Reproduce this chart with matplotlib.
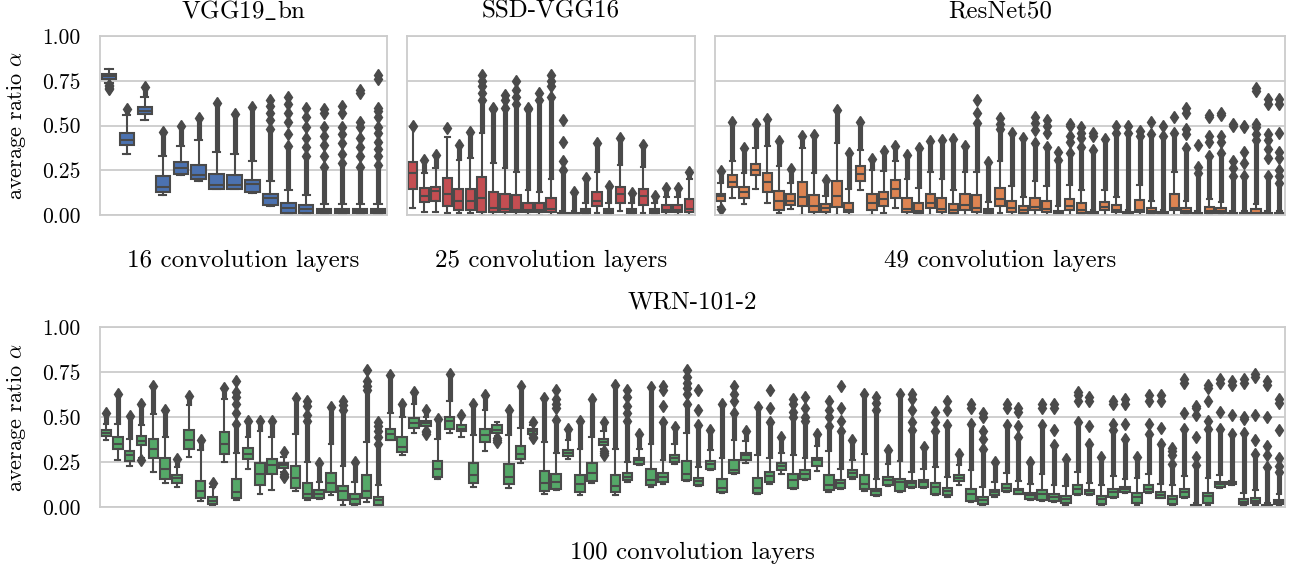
import numpy as np
import matplotlib
matplotlib.use("Agg")
import matplotlib.pyplot as plt

plt.rcParams["font.family"] = "serif"
plt.rcParams["font.serif"] = ["cmr10", "DejaVu Serif"]
plt.rcParams["mathtext.fontset"] = "cm"
plt.rcParams["axes.unicode_minus"] = False
plt.rcParams["axes.formatter.use_mathtext"] = True

# ---- VGG19_bn (16 layers) ----
vgg_q1 = [0.757, 0.389, 0.563, 0.128, 0.231, 0.202, 0.146, 0.146, 0.128, 0.054, 0.013, 0.013, 0.013, 0.013, 0.013, 0.013]
vgg_med = [0.774, 0.417, 0.583, 0.157, 0.263, 0.222, 0.170, 0.165, 0.174, 0.093, 0.041, 0.031, 0.020, 0.020, 0.020, 0.020]
vgg_q3 = [0.790, 0.457, 0.602, 0.218, 0.296, 0.278, 0.230, 0.226, 0.198, 0.117, 0.069, 0.054, 0.031, 0.031, 0.031, 0.031]
vgg_lo = [0.735, 0.339, 0.531, 0.109, 0.222, 0.189, 0.143, 0.143, 0.122, 0.048, 0.0, 0.0, 0.0, 0.0, 0.0, 0.0]
vgg_hi = [0.818, 0.560, 0.657, 0.328, 0.383, 0.420, 0.350, 0.340, 0.300, 0.190, 0.140, 0.110, 0.060, 0.060, 0.060, 0.060]
vgg_top = [0.818, 0.590, 0.713, 0.461, 0.498, 0.541, 0.624, 0.565, 0.604, 0.480, 0.383, 0.328, 0.270, 0.290, 0.270, 0.280]
vgg_out = [[0.728, 0.720, 0.712, 0.705], [], [], [], [], [], [], [], [],
           [0.53, 0.57, 0.61, 0.64], [0.45, 0.52, 0.57, 0.62, 0.66], [0.38, 0.43, 0.49, 0.55, 0.60],
           [0.33, 0.39, 0.44, 0.49, 0.57, 0.59], [0.34, 0.40, 0.45, 0.49, 0.57, 0.61],
           [0.33, 0.38, 0.43, 0.49, 0.52, 0.68, 0.70],
           [0.33, 0.37, 0.41, 0.46, 0.49, 0.55, 0.58, 0.60, 0.76, 0.78]]

# ---- SSD-VGG16 (25 layers) ----
ssd_q1 = [0.148, 0.074, 0.081, 0.050, 0.028, 0.028, 0.019, 0.019, 0.019, 0.019, 0.019, 0.019, 0.019, 0.003, 0.003, 0.013, 0.050, 0.013, 0.069, 0.013, 0.054, 0.013, 0.019, 0.019, 0.019]
ssd_med = [0.235, 0.106, 0.133, 0.115, 0.078, 0.078, 0.093, 0.041, 0.031, 0.028, 0.028, 0.028, 0.031, 0.005, 0.005, 0.020, 0.078, 0.020, 0.115, 0.020, 0.106, 0.020, 0.030, 0.030, 0.035]
ssd_q3 = [0.296, 0.152, 0.156, 0.207, 0.143, 0.146, 0.211, 0.130, 0.115, 0.109, 0.069, 0.065, 0.093, 0.010, 0.010, 0.035, 0.128, 0.035, 0.156, 0.035, 0.143, 0.035, 0.054, 0.054, 0.091]
ssd_lo = [0.037, 0.019, 0.019, 0.013, 0.013, 0.013, 0.0, 0.0, 0.0, 0.0, 0.0, 0.0, 0.0, 0.0, 0.0, 0.0, 0.013, 0.0, 0.020, 0.0, 0.013, 0.0, 0.0, 0.0, 0.0]
ssd_hi = [0.490, 0.235, 0.263, 0.435, 0.310, 0.320, 0.457, 0.290, 0.260, 0.240, 0.140, 0.130, 0.200, 0.020, 0.020, 0.065, 0.240, 0.065, 0.280, 0.065, 0.270, 0.065, 0.100, 0.100, 0.200]
ssd_top = [0.490, 0.306, 0.333, 0.435, 0.393, 0.463, 0.640, 0.590, 0.600, 0.620, 0.590, 0.640, 0.660, 0.254, 0.128, 0.207, 0.402, 0.161, 0.430, 0.124, 0.393, 0.106, 0.152, 0.152, 0.241]
ssd_out = [[0.50], [], [], [0.485], [], [], [0.68, 0.72, 0.75, 0.78], [0.60], [0.64, 0.67],
           [0.66, 0.70, 0.75], [0.60], [0.68], [0.72, 0.75, 0.78], [0.30, 0.41, 0.53],
           [], [], [], [], [], [], [], [], [], [], []]

# ---- ResNet50 (49 layers) ----
res_q1 = [0.081, 0.157, 0.093, 0.222, 0.130, 0.028, 0.054, 0.050, 0.019, 0.019, 0.046, 0.019, 0.189, 0.028, 0.050, 0.093, 0.019,
          0.013, 0.037, 0.019, 0.013, 0.028, 0.019, 0.010, 0.050, 0.019, 0.013, 0.028, 0.019, 0.005, 0.028, 0.013, 0.003,
          0.028, 0.019, 0.003, 0.019, 0.013, 0.003, 0.028, 0.013, 0.002, 0.013, 0.013, 0.002, 0.002, 0.005, 0.002, 0.002]
res_med = [0.106, 0.183, 0.128, 0.254, 0.183, 0.078, 0.081, 0.102, 0.050, 0.037, 0.106, 0.028, 0.231, 0.065, 0.087, 0.148, 0.035,
           0.020, 0.065, 0.035, 0.028, 0.056, 0.041, 0.020, 0.087, 0.037, 0.028, 0.046, 0.031, 0.012, 0.050, 0.028, 0.008,
           0.046, 0.028, 0.008, 0.028, 0.020, 0.008, 0.041, 0.020, 0.005, 0.020, 0.020, 0.005, 0.005, 0.012, 0.005, 0.005]
res_q3 = [0.120, 0.222, 0.157, 0.285, 0.235, 0.133, 0.115, 0.183, 0.109, 0.059, 0.189, 0.069, 0.272, 0.115, 0.130, 0.194, 0.093,
          0.069, 0.120, 0.093, 0.063, 0.115, 0.109, 0.035, 0.152, 0.078, 0.050, 0.093, 0.078, 0.025, 0.087, 0.065, 0.015,
          0.074, 0.054, 0.015, 0.083, 0.041, 0.015, 0.115, 0.041, 0.010, 0.046, 0.037, 0.010, 0.010, 0.031, 0.010, 0.010]
res_lo = [0.045, 0.093, 0.059, 0.143, 0.069, 0.013, 0.031, 0.0, 0.0, 0.0, 0.0, 0.0, 0.139, 0.0, 0.013, 0.041, 0.0,
          0.0, 0.0, 0.0, 0.0, 0.0, 0.0, 0.0, 0.013, 0.0, 0.0, 0.0, 0.0, 0.0, 0.0, 0.0, 0.0,
          0.0, 0.0, 0.0, 0.0, 0.0, 0.0, 0.0, 0.0, 0.0, 0.0, 0.0, 0.0, 0.0, 0.0, 0.0, 0.0]
res_hi = [0.180, 0.300, 0.235, 0.374, 0.383, 0.276, 0.180, 0.374, 0.235, 0.105, 0.402, 0.143, 0.365, 0.254, 0.244, 0.300, 0.200,
          0.150, 0.240, 0.200, 0.140, 0.240, 0.240, 0.070, 0.300, 0.160, 0.100, 0.190, 0.160, 0.050, 0.170, 0.140, 0.030,
          0.140, 0.100, 0.030, 0.170, 0.080, 0.030, 0.240, 0.080, 0.020, 0.090, 0.070, 0.020, 0.020, 0.060, 0.020, 0.020]
res_top = [0.244, 0.522, 0.374, 0.509, 0.537, 0.411, 0.259, 0.443, 0.448, 0.193, 0.587, 0.346, 0.517, 0.315, 0.356, 0.383, 0.337,
           0.374, 0.411, 0.417, 0.424, 0.383, 0.513, 0.296, 0.480, 0.457, 0.430, 0.400, 0.380, 0.310, 0.346, 0.380, 0.365,
           0.424, 0.460, 0.460, 0.440, 0.450, 0.440, 0.457, 0.374, 0.235, 0.330, 0.346, 0.216, 0.216, 0.420, 0.216, 0.180]
res_out = [[0.035], [], [], [], [], [], [], [], [], [], [], [], [], [], [], [], [],
           [], [], [], [], [], [0.57, 0.64], [], [0.51, 0.54], [], [], [0.476, 0.513, 0.55], [0.46, 0.50, 0.53],
           [0.35], [0.41, 0.44, 0.50, 0.51], [0.43, 0.46, 0.49], [0.44, 0.46],
           [], [0.50], [0.50], [0.47], [0.52], [0.50], [0.55], [0.45, 0.48, 0.57, 0.60], [0.27, 0.39],
           [0.41, 0.44, 0.55, 0.56], [0.41, 0.44, 0.56, 0.57], [0.26, 0.30, 0.50, 0.51], [0.29, 0.35, 0.49, 0.50],
           [0.45, 0.49, 0.51, 0.69, 0.71], [0.32, 0.37, 0.42, 0.45, 0.62, 0.65],
           [0.22, 0.25, 0.32, 0.35, 0.46, 0.62, 0.65]]

# ---- WRN-101-2 (100 layers) ----
wrn_q1 = [0.394, 0.324, 0.256, 0.346, 0.272, 0.157, 0.133, 0.324, 0.052, 0.019,
          0.293, 0.052, 0.265, 0.124, 0.185, 0.219, 0.107, 0.052, 0.052, 0.083,
          0.037, 0.019, 0.052, 0.010, 0.374, 0.306, 0.441, 0.448, 0.167, 0.435,
          0.420, 0.133, 0.361, 0.411, 0.126, 0.269, 0.407, 0.087, 0.102, 0.283,
          0.083, 0.144, 0.343, 0.083, 0.148, 0.241, 0.120, 0.139, 0.250, 0.152,
          0.124, 0.213, 0.083, 0.189, 0.259, 0.080, 0.139, 0.204, 0.107, 0.157,
          0.228, 0.093, 0.106, 0.167, 0.102, 0.065, 0.120, 0.089, 0.111, 0.111,
          0.074, 0.065, 0.143, 0.033, 0.019, 0.065, 0.087, 0.074, 0.046, 0.037,
          0.033, 0.024, 0.070, 0.070, 0.019, 0.056, 0.083, 0.024, 0.083, 0.052,
          0.019, 0.056, 0.002, 0.024, 0.111, 0.128, 0.019, 0.024, 0.002, 0.019]
wrn_med = [0.411, 0.352, 0.287, 0.367, 0.324, 0.213, 0.161, 0.370, 0.089, 0.033,
           0.348, 0.083, 0.296, 0.181, 0.231, 0.233, 0.163, 0.074, 0.074, 0.133,
           0.087, 0.046, 0.087, 0.037, 0.407, 0.333, 0.469, 0.467, 0.209, 0.476,
           0.435, 0.176, 0.398, 0.430, 0.167, 0.296, 0.422, 0.133, 0.139, 0.300,
           0.130, 0.191, 0.361, 0.115, 0.167, 0.259, 0.148, 0.167, 0.274, 0.181,
           0.144, 0.237, 0.106, 0.207, 0.287, 0.107, 0.170, 0.226, 0.152, 0.185,
           0.259, 0.120, 0.133, 0.189, 0.130, 0.087, 0.148, 0.139, 0.133, 0.139,
           0.111, 0.087, 0.163, 0.070, 0.041, 0.083, 0.106, 0.093, 0.069, 0.074,
           0.056, 0.046, 0.102, 0.087, 0.043, 0.083, 0.098, 0.056, 0.102, 0.065,
           0.043, 0.083, 0.005, 0.059, 0.130, 0.133, 0.030, 0.035, 0.005, 0.028]
wrn_q3 = [0.426, 0.389, 0.311, 0.394, 0.380, 0.274, 0.180, 0.426, 0.144, 0.056,
          0.417, 0.154, 0.330, 0.244, 0.269, 0.246, 0.228, 0.133, 0.096, 0.190,
          0.115, 0.070, 0.176, 0.056, 0.431, 0.389, 0.496, 0.478, 0.256, 0.500,
          0.454, 0.244, 0.435, 0.454, 0.237, 0.339, 0.435, 0.198, 0.181, 0.319,
          0.180, 0.244, 0.376, 0.180, 0.189, 0.274, 0.213, 0.189, 0.291, 0.256,
          0.161, 0.254, 0.157, 0.263, 0.302, 0.163, 0.194, 0.244, 0.181, 0.204,
          0.272, 0.180, 0.148, 0.204, 0.180, 0.102, 0.167, 0.157, 0.144, 0.152,
          0.133, 0.106, 0.180, 0.102, 0.056, 0.096, 0.130, 0.102, 0.080, 0.096,
          0.070, 0.061, 0.120, 0.096, 0.061, 0.102, 0.111, 0.080, 0.124, 0.083,
          0.061, 0.102, 0.010, 0.080, 0.139, 0.138, 0.043, 0.052, 0.010, 0.041]
wrn_lo = [0.370, 0.263, 0.228, 0.270, 0.194, 0.133, 0.111, 0.278, 0.033, 0.010,
          0.250, 0.037, 0.213, 0.074, 0.093, 0.194, 0.089, 0.040, 0.043, 0.065,
          0.010, 0.010, 0.028, 0.005, 0.370, 0.287, 0.411, 0.430, 0.157, 0.411,
          0.389, 0.111, 0.309, 0.395, 0.107, 0.244, 0.398, 0.074, 0.096, 0.269,
          0.065, 0.133, 0.320, 0.065, 0.140, 0.235, 0.111, 0.130, 0.241, 0.144,
          0.118, 0.205, 0.078, 0.181, 0.244, 0.070, 0.130, 0.185, 0.100, 0.150,
          0.198, 0.085, 0.100, 0.155, 0.090, 0.060, 0.115, 0.083, 0.106, 0.104,
          0.065, 0.058, 0.120, 0.028, 0.010, 0.056, 0.083, 0.070, 0.040, 0.033,
          0.028, 0.010, 0.065, 0.068, 0.010, 0.050, 0.078, 0.010, 0.078, 0.048,
          0.010, 0.050, 0.0, 0.010, 0.105, 0.125, 0.005, 0.010, 0.0, 0.005]
wrn_hi = [0.463, 0.463, 0.380, 0.454, 0.519, 0.389, 0.222, 0.565, 0.315, 0.110,
          0.600, 0.300, 0.389, 0.420, 0.389, 0.280, 0.407, 0.250, 0.140, 0.352,
          0.230, 0.140, 0.360, 0.120, 0.520, 0.500, 0.570, 0.500, 0.380, 0.590,
          0.500, 0.400, 0.540, 0.472, 0.400, 0.440, 0.455, 0.360, 0.300, 0.370,
          0.320, 0.390, 0.420, 0.320, 0.250, 0.320, 0.350, 0.260, 0.350, 0.410,
          0.220, 0.315, 0.270, 0.370, 0.365, 0.290, 0.275, 0.300, 0.290, 0.275,
          0.338, 0.310, 0.210, 0.260, 0.295, 0.157, 0.237, 0.257, 0.193, 0.213,
          0.220, 0.167, 0.235, 0.205, 0.110, 0.140, 0.190, 0.145, 0.130, 0.185,
          0.125, 0.115, 0.195, 0.135, 0.123, 0.170, 0.153, 0.163, 0.185, 0.130,
          0.123, 0.170, 0.020, 0.163, 0.180, 0.145, 0.080, 0.093, 0.020, 0.075]
wrn_top = [0.522, 0.626, 0.504, 0.574, 0.670, 0.541, 0.269, 0.617, 0.374, 0.133,
           0.661, 0.463, 0.478, 0.478, 0.478, 0.305, 0.607, 0.480, 0.244, 0.556,
           0.537, 0.250, 0.648, 0.352, 0.731, 0.574, 0.639, 0.540, 0.491, 0.741,
           0.509, 0.574, 0.624, 0.472, 0.537, 0.670, 0.472, 0.607, 0.481, 0.435,
           0.478, 0.602, 0.472, 0.676, 0.480, 0.407, 0.667, 0.472, 0.444, 0.570,
           0.454, 0.426, 0.574, 0.520, 0.422, 0.556, 0.472, 0.389, 0.500, 0.480,
           0.407, 0.450, 0.420, 0.370, 0.630, 0.540, 0.319, 0.630, 0.430, 0.333,
           0.420, 0.454, 0.296, 0.463, 0.324, 0.250, 0.454, 0.389, 0.250, 0.454,
           0.343, 0.269, 0.472, 0.352, 0.278, 0.426, 0.380, 0.278, 0.407, 0.352,
           0.240, 0.435, 0.231, 0.435, 0.435, 0.407, 0.410, 0.296, 0.222, 0.194]
wrn_out = [[], [], [], [0.26], [], [], [], [], [], [],
           [], [0.52, 0.57, 0.61, 0.64, 0.70], [], [], [], [0.185, 0.175, 0.167], [], [0.51, 0.56, 0.59], [], [],
           [0.565, 0.59], [], [0.67, 0.70, 0.76], [0.39, 0.42, 0.45, 0.47], [], [], [], [0.42, 0.415, 0.407], [], [],
           [], [], [], [0.385, 0.375, 0.361], [], [], [0.39, 0.385], [], [0.55, 0.57, 0.60, 0.65], [],
           [], [], [0.31, 0.30, 0.287], [], [0.52, 0.56, 0.61, 0.65], [], [], [0.56, 0.65, 0.67], [], [0.63, 0.66, 0.69, 0.72, 0.76],
           [0.54, 0.65], [], [], [0.59, 0.63, 0.67], [], [], [0.55, 0.65], [], [0.53, 0.57, 0.60], [0.50, 0.55, 0.61],
           [], [0.50, 0.54, 0.59], [0.48, 0.55, 0.67], [], [], [0.58, 0.61], [], [], [0.47, 0.54, 0.60, 0.63], [],
           [0.47, 0.53], [0.54, 0.59], [], [0.55, 0.57], [0.38, 0.42, 0.50, 0.52], [], [0.55, 0.57], [0.45, 0.53, 0.55], [], [0.55, 0.57],
           [0.43, 0.55, 0.57], [], [0.59, 0.62, 0.64], [0.45, 0.59, 0.61], [], [0.46, 0.57, 0.59], [0.46, 0.57, 0.60], [], [0.46, 0.59, 0.62], [0.44, 0.59, 0.62],
           [0.29, 0.31, 0.33], [0.52, 0.69, 0.71], [0.28, 0.39, 0.51, 0.55, 0.56], [0.48, 0.59, 0.66, 0.68], [0.53, 0.69, 0.71],
           [0.51, 0.68, 0.70], [0.49, 0.50, 0.69, 0.71], [0.37, 0.51, 0.72, 0.74], [0.29, 0.34, 0.50, 0.68, 0.70],
           [0.23, 0.27, 0.43, 0.58, 0.60]]

GRAY = "#4a4a4a"
GRID = "#cccccc"
LW = 1.5
MS = 6


def draw(ax, q1, med, q3, lo, hi, top, out, color, title, xlabel):
    n = len(med)
    stats = [dict(q1=a, med=b, q3=c, whislo=d, whishi=e, fliers=f)
             for a, b, c, d, e, f in zip(q1, med, q3, lo, hi, out)]
    ax.bxp(stats, positions=np.arange(n), widths=0.8, patch_artist=True,
           boxprops=dict(facecolor=color, edgecolor=GRAY, linewidth=LW),
           whiskerprops=dict(color=GRAY, linewidth=LW),
           capprops=dict(color=GRAY, linewidth=LW),
           medianprops=dict(color=GRAY, linewidth=LW),
           flierprops=dict(marker="d", markerfacecolor=GRAY, markeredgecolor=GRAY,
                           markersize=MS, linestyle="none"))
    # dense runs of outliers drawn as a solid column
    x = np.arange(n)
    hi_a, top_a = np.array(hi), np.array(top)
    m = top_a > hi_a
    ax.vlines(x[m], hi_a[m], top_a[m], colors=GRAY, linewidth=3.7, zorder=2)
    ax.plot(x[m], top_a[m], "d", color=GRAY, markersize=MS, zorder=2)
    ax.set_xlim(-0.5, n - 0.5)
    ax.set_ylim(0, 1.0)
    ax.set_xticks([])
    ax.set_yticks([0, 0.25, 0.5, 0.75, 1.0])
    ax.set_yticklabels(["0.00", "0.25", "0.50", "0.75", "1.00"])
    ax.tick_params(axis="y", length=0, pad=14, labelsize=15.5)
    ax.grid(axis="y", color=GRID, linewidth=1.3)
    ax.set_axisbelow(True)
    for s in ax.spines.values():
        s.set_color(GRID)
        s.set_linewidth(1.3)
    ax.set_title(title, fontsize=18, pad=13)
    ax.set_xlabel(xlabel, fontsize=18, labelpad=25)


fig = plt.figure(figsize=(12.92, 5.67), dpi=100)
W, H = 1292, 567
ax1 = fig.add_axes([100 / W, 1 - 215 / H, 287 / W, 179 / H])
ax2 = fig.add_axes([407 / W, 1 - 215 / H, 288 / W, 179 / H])
ax3 = fig.add_axes([715 / W, 1 - 215 / H, 570 / W, 179 / H])
ax4 = fig.add_axes([100 / W, 1 - 507 / H, 1185 / W, 180 / H])

draw(ax1, vgg_q1, vgg_med, vgg_q3, vgg_lo, vgg_hi, vgg_top, vgg_out, "#4C72B0",
     r"VGG19$\_$bn", "16 convolution layers")
draw(ax2, ssd_q1, ssd_med, ssd_q3, ssd_lo, ssd_hi, ssd_top, ssd_out, "#C44E52",
     "SSD-VGG16", "25 convolution layers")
draw(ax3, res_q1, res_med, res_q3, res_lo, res_hi, res_top, res_out, "#DD8452",
     "ResNet50", "49 convolution layers")
draw(ax4, wrn_q1, wrn_med, wrn_q3, wrn_lo, wrn_hi, wrn_top, wrn_out, "#55A868",
     "WRN-101-2", "100 convolution layers")

for ax in (ax2, ax3):
    ax.tick_params(axis="y", labelleft=False)
for ax in (ax1, ax4):
    ax.set_ylabel(r"average ratio $\alpha$", fontsize=16, labelpad=10)

fig.savefig("out.png", dpi=100)
